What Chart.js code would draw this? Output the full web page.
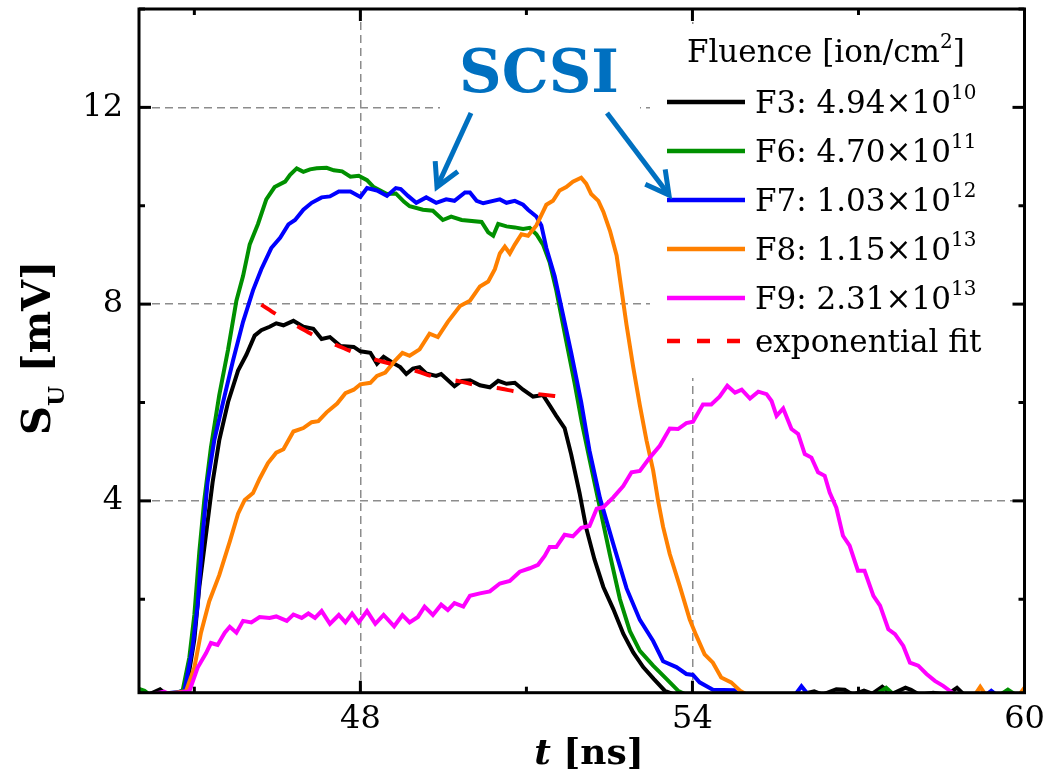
<!DOCTYPE html>
<html>
<head>
<meta charset="utf-8">
<script src="https://cdn.jsdelivr.net/npm/chart.js@4"></script>
<style>
  body { margin: 0; background: #fff; }
  #wrap { width: 1059px; height: 775px; }
</style>
</head>
<body>
<div id="wrap"><canvas id="signalCanvas" width="1059" height="775"></canvas></div>
<script>
// transients, pairs of [t (ns), S_U (mV)]
const f3 = [[44.0,0.10],[44.15,0.05],[44.38,0.17],[44.5,0.06],[44.7,0.05],[44.85,0.13],[45.0,1.18],[45.09,2.25],[45.21,3.31],[45.33,4.38],[45.45,5.23],[45.61,6.01],[45.79,6.65],[45.94,6.97],[46.09,7.36],[46.21,7.47],[46.36,7.54],[46.48,7.61],[46.61,7.57],[46.79,7.66],[46.97,7.54],[47.15,7.50],[47.30,7.29],[47.45,7.33],[47.64,7.15],[47.88,7.13],[48.0,7.04],[48.18,7.01],[48.30,6.79],[48.42,6.93],[48.61,6.79],[48.72,6.72],[48.83,6.58],[48.95,6.69],[49.07,6.72],[49.19,6.59],[49.37,6.54],[49.46,6.58],[49.70,6.33],[49.83,6.44],[49.98,6.45],[50.16,6.35],[50.34,6.31],[50.49,6.44],[50.64,6.38],[50.79,6.40],[50.94,6.26],[51.12,6.12],[51.30,6.15],[51.42,5.94],[51.54,5.73],[51.69,5.48],[51.81,4.94],[51.96,4.16],[52.08,3.45],[52.23,2.81],[52.39,2.25],[52.57,1.80],[52.75,1.30],[52.93,0.92],[53.11,0.62],[53.30,0.38],[53.50,0.14],[53.70,0.05],[55.9,0.05],[56.2,0.13],[56.35,0.06],[56.6,0.17],[56.75,0.16],[56.9,0.06],[57.1,0.14],[57.25,0.08],[57.43,0.22],[57.6,0.07],[57.85,0.20],[57.95,0.16],[58.1,0.06],[58.35,0.10],[58.6,0.06],[58.78,0.20],[58.9,0.07],[59.2,0.05],[60.0,0.05]];
const f6 = [[44.0,0.18],[44.1,0.14],[44.2,0.05],[44.6,0.05],[44.79,0.15],[44.91,0.82],[45.0,1.68],[45.09,2.96],[45.18,4.02],[45.30,5.09],[45.45,6.15],[45.61,7.08],[45.76,8.07],[45.88,8.57],[46.0,9.21],[46.15,9.63],[46.30,10.13],[46.45,10.38],[46.64,10.49],[46.73,10.63],[46.85,10.76],[46.97,10.69],[47.09,10.74],[47.21,10.76],[47.39,10.77],[47.52,10.72],[47.67,10.70],[47.82,10.59],[47.97,10.61],[48.12,10.52],[48.24,10.38],[48.48,10.24],[48.64,10.25],[48.79,10.08],[48.89,9.99],[49.13,9.92],[49.31,9.90],[49.49,9.71],[49.64,9.78],[49.83,9.71],[50.19,9.67],[50.31,9.46],[50.40,9.39],[50.49,9.63],[50.64,9.58],[50.79,9.56],[50.94,9.53],[51.06,9.55],[51.18,9.42],[51.30,9.21],[51.42,8.85],[51.54,8.28],[51.72,7.25],[51.87,6.40],[52.0,5.60],[52.14,4.85],[52.33,3.85],[52.51,2.90],[52.69,2.0],[52.87,1.35],[53.05,0.95],[53.29,0.65],[53.53,0.38],[53.74,0.14],[53.9,0.05],[57.3,0.05],[57.5,0.20],[57.65,0.05],[59.55,0.05],[59.7,0.16],[59.85,0.05],[60.0,0.05]];
const f7 = [[44.0,0.02],[44.82,0.13],[44.97,1.04],[45.06,1.89],[45.15,3.31],[45.24,4.38],[45.36,5.23],[45.52,6.01],[45.70,6.86],[45.88,7.64],[46.06,8.28],[46.21,8.71],[46.39,9.14],[46.55,9.35],[46.70,9.62],[46.82,9.71],[46.97,9.92],[47.12,10.06],[47.30,10.17],[47.45,10.19],[47.61,10.29],[47.82,10.29],[48.0,10.18],[48.12,10.36],[48.30,10.31],[48.48,10.20],[48.64,10.36],[48.73,10.34],[48.86,10.20],[49.01,10.06],[49.19,10.17],[49.37,10.06],[49.55,10.13],[49.70,10.10],[49.89,10.27],[49.98,10.27],[50.10,10.10],[50.22,10.05],[50.52,10.13],[50.64,10.06],[50.79,10.10],[50.94,10.02],[51.03,9.92],[51.18,9.78],[51.27,9.60],[51.36,9.14],[51.51,8.57],[51.66,7.79],[51.81,7.01],[51.99,6.01],[52.14,5.02],[52.33,4.05],[52.57,3.12],[52.81,2.22],[53.05,1.58],[53.29,1.15],[53.47,0.74],[53.71,0.62],[53.89,0.48],[54.01,0.46],[54.13,0.31],[54.37,0.16],[54.75,0.15],[54.85,0.05],[55.85,0.05],[55.97,0.23],[56.1,0.05],[59.3,0.05],[59.4,0.14],[59.5,0.05],[60.0,0.05]];
const f8 = [[44.0,0.0],[44.85,0.13],[45.0,0.61],[45.12,1.32],[45.27,1.96],[45.45,2.49],[45.64,3.17],[45.79,3.74],[45.91,4.02],[46.06,4.16],[46.18,4.45],[46.33,4.77],[46.48,4.98],[46.61,5.05],[46.79,5.41],[46.97,5.48],[47.12,5.60],[47.24,5.62],[47.39,5.80],[47.58,5.98],[47.73,6.19],[47.88,6.26],[48.0,6.37],[48.18,6.40],[48.30,6.54],[48.45,6.61],[48.61,6.83],[48.76,7.01],[48.89,6.95],[49.07,7.08],[49.25,7.40],[49.40,7.33],[49.58,7.64],[49.80,7.96],[49.98,8.07],[50.16,8.36],[50.31,8.46],[50.43,8.71],[50.52,9.03],[50.61,9.17],[50.70,9.03],[50.79,9.21],[50.91,9.42],[51.03,9.39],[51.18,9.60],[51.27,9.81],[51.36,10.02],[51.48,10.10],[51.60,10.31],[51.72,10.38],[51.84,10.49],[51.99,10.57],[52.08,10.45],[52.17,10.24],[52.30,10.10],[52.39,9.88],[52.51,9.49],[52.63,8.99],[52.72,8.28],[52.81,7.57],[52.93,6.72],[53.05,5.94],[53.17,5.23],[53.29,4.62],[53.38,4.0],[53.47,3.47],[53.59,2.92],[53.77,2.27],[53.95,1.59],[54.07,1.26],[54.22,0.88],[54.37,0.71],[54.52,0.41],[54.70,0.31],[54.86,0.14],[55.0,0.05],[59.1,0.05],[59.2,0.22],[59.3,0.05],[59.9,0.05],[59.98,0.17],[60.0,0.12]];
const f9 = [[44.0,0.0],[44.45,0.12],[44.55,0.07],[44.91,0.13],[45.06,0.61],[45.21,0.90],[45.30,1.11],[45.42,1.07],[45.55,1.32],[45.64,1.44],[45.76,1.32],[45.88,1.56],[46.03,1.53],[46.18,1.64],[46.36,1.62],[46.48,1.65],[46.67,1.56],[46.79,1.69],[46.94,1.62],[47.06,1.71],[47.18,1.62],[47.30,1.76],[47.45,1.50],[47.61,1.68],[47.73,1.53],[47.85,1.71],[47.97,1.53],[48.12,1.76],[48.27,1.50],[48.42,1.68],[48.61,1.45],[48.76,1.68],[48.89,1.53],[49.04,1.64],[49.16,1.85],[49.31,1.68],[49.46,1.89],[49.58,1.78],[49.70,1.92],[49.86,1.85],[49.98,2.07],[50.16,2.12],[50.34,2.16],[50.52,2.32],[50.70,2.37],[50.88,2.56],[51.06,2.63],[51.21,2.70],[51.33,2.88],[51.42,3.06],[51.54,3.06],[51.69,3.31],[51.84,3.28],[51.99,3.45],[52.14,3.49],[52.27,3.84],[52.39,3.87],[52.57,4.07],[52.75,4.30],[52.90,4.58],[53.05,4.61],[53.23,4.88],[53.41,5.12],[53.59,5.47],[53.74,5.46],[53.89,5.58],[54.01,5.61],[54.19,5.96],[54.34,5.96],[54.49,6.12],[54.63,6.34],[54.77,6.20],[54.89,6.26],[55.04,6.08],[55.19,6.22],[55.34,6.17],[55.43,6.03],[55.52,5.73],[55.64,5.88],[55.79,5.46],[55.91,5.36],[56.03,4.95],[56.15,4.88],[56.27,4.58],[56.39,4.51],[56.48,4.17],[56.60,3.86],[56.72,3.29],[56.84,3.09],[56.99,2.58],[57.11,2.58],[57.27,2.07],[57.39,1.87],[57.54,1.39],[57.66,1.29],[57.81,1.05],[57.93,0.71],[58.08,0.65],[58.23,0.48],[58.38,0.34],[58.53,0.24],[58.65,0.14],[58.8,0.02],[60.0,0.0]];
// exponential fit of the F3 plateau
const expFit = [[46.21,7.99],[46.50,7.78],[46.88,7.54],[47.15,7.37],[47.58,7.16],[47.88,7.02],[48.30,6.86],[48.61,6.77],[49.04,6.63],[49.31,6.53],[49.80,6.43],[50.10,6.35],[50.55,6.28],[50.82,6.22],[51.30,6.16],[51.60,6.12]];

const seriesNames = ['F3', 'F6', 'F7', 'F8', 'F9'];
const fluenceMantissa = ['4.94', '4.70', '1.03', '1.15', '2.31'];
const fluenceExponent = ['10', '11', '12', '13', '13'];
const xTicks = [45, 48, 51, 54, 57, 60];
const yTicks = [2, 4, 6, 8, 10, 12, 14];
const xLabelled = [48, 54, 60];
const yLabelled = [4, 8, 12];

const lineColors = ['#000000', '#009000', '#0000ff', '#ff8000', '#ff00ff'];
const fitColor = '#ff0000';
const noteColor = '#0070c0';
const serif = 'DejaVu Serif';

const curves = [f3, f6, f7, f8, f9];
const toPoints = arr => arr.map(p => ({x: p[0], y: p[1]}));

const datasets = curves.map((c, i) => ({
  label: seriesNames[i],
  data: toPoints(c),
  borderColor: lineColors[i],
  borderWidth: 4,
  pointRadius: 0,
  tension: 0,
  order: 5 - i   // later fluences on top
}));
datasets.push({
  label: 'exponential fit',
  data: toPoints(expFit),
  borderColor: fitColor,
  borderWidth: 4,
  borderDash: [17, 25],
  pointRadius: 0,
  cubicInterpolationMode: 'monotone',
  order: 0
});

function line(ctx, x1, y1, x2, y2) {
  ctx.beginPath();
  ctx.moveTo(x1, y1);
  ctx.lineTo(x2, y2);
  ctx.stroke();
}

// text with a superscript tail, returns end x
function textSup(ctx, base, sup, x, y, size) {
  ctx.font = size + 'px "' + serif + '"';
  ctx.fillText(base, x, y);
  let w = ctx.measureText(base).width;
  ctx.font = Math.round(size * 0.64) + 'px "' + serif + '"';
  ctx.fillText(sup, x + w, y - size * 0.46);
  return x + w + ctx.measureText(sup).width;
}

function arrow(ctx, x1, y1, x2, y2) {
  const a = Math.atan2(y1 - y2, x1 - x2);
  const len = 26, spread = 0.5;
  line(ctx, x1, y1, x2, y2);
  ctx.beginPath();
  ctx.moveTo(x2 + len * Math.cos(a - spread), y2 + len * Math.sin(a - spread));
  ctx.lineTo(x2, y2);
  ctx.lineTo(x2 + len * Math.cos(a + spread), y2 + len * Math.sin(a + spread));
  ctx.stroke();
}

const decorations = {
  id: 'decorations',
  beforeDatasetsDraw(chart) {
    const ctx = chart.ctx;
    ctx.save();
    ctx.fillStyle = '#ffffff';
    ctx.fillRect(440, 24, 200, 94);   // behind the SCSI note
    ctx.fillRect(650, 24, 372, 354);  // behind the legend
    ctx.restore();
  },
  afterDatasetsDraw(chart) {
    const ctx = chart.ctx;
    const {left, right, top, bottom} = chart.chartArea;
    const xs = chart.scales.x, ys = chart.scales.y;
    ctx.save();

    // frame and inward ticks on all sides
    ctx.strokeStyle = '#000';
    ctx.lineWidth = 3;
    ctx.strokeRect(left, top, right - left, bottom - top);
    xTicks.forEach(v => {
      const px = xs.getPixelForValue(v);
      const len = xLabelled.includes(v) ? 12 : 6;
      line(ctx, px, bottom, px, bottom - len);
      line(ctx, px, top, px, top + len);
    });
    yTicks.forEach(v => {
      const py = ys.getPixelForValue(v);
      const len = yLabelled.includes(v) ? 12 : 6;
      line(ctx, left, py, left + len, py);
      line(ctx, right, py, right - len, py);
    });

    // legend
    ctx.fillStyle = '#000';
    ctx.textBaseline = 'alphabetic';
    ctx.textAlign = 'left';
    ctx.font = '31px "' + serif + '"';
    const head = 'Fluence [ion/cm';
    const headW = ctx.measureText(head + ']').width + 13;
    let hx = 826 - headW / 2;
    hx = textSup(ctx, head, '2', hx, 62, 31);
    ctx.font = '31px "' + serif + '"';
    ctx.fillText(']', hx, 62);

    const rowY = [113, 162, 211, 260, 309];
    seriesNames.forEach((name, i) => {
      ctx.strokeStyle = lineColors[i];
      ctx.lineWidth = 4.5;
      line(ctx, 667, rowY[i] - 11, 745, rowY[i] - 11);
      ctx.fillStyle = '#000';
      textSup(ctx, name + ': ' + fluenceMantissa[i] + '\u00d710', fluenceExponent[i], 755, rowY[i], 31);
    });
    ctx.strokeStyle = fitColor;
    ctx.lineWidth = 4.5;
    ctx.setLineDash([13, 17]);
    line(ctx, 667, 341, 745, 341);
    ctx.setLineDash([]);
    ctx.font = '31px "' + serif + '"';
    ctx.fillText('exponential fit', 755, 352);

    // SCSI note with arrows
    ctx.fillStyle = noteColor;
    ctx.strokeStyle = noteColor;
    ctx.font = 'bold 59px "' + serif + '"';
    ctx.textAlign = 'center';
    ctx.fillText('SCSI', 539, 92);
    ctx.lineWidth = 5;
    ctx.lineJoin = 'miter';
    arrow(ctx, 471, 113, 437, 187);
    arrow(ctx, 607, 113, 669, 195);

    // axis titles
    ctx.fillStyle = '#000';
    ctx.textAlign = 'left';
    ctx.font = 'bold italic 36px "' + serif + '"';
    const tW = ctx.measureText('t').width;
    ctx.font = 'bold 36px "' + serif + '"';
    const unitW = ctx.measureText(' [ns]').width;
    let tx = 589 - (tW + unitW) / 2;
    ctx.font = 'bold italic 36px "' + serif + '"';
    ctx.fillText('t', tx, 764);
    ctx.font = 'bold 36px "' + serif + '"';
    ctx.fillText(' [ns]', tx + tW, 764);

    ctx.translate(50, 435);
    ctx.rotate(-Math.PI / 2);
    ctx.font = 'bold 40px "' + serif + '"';
    ctx.fillText('S', 0, 0);
    let sx = ctx.measureText('S').width;
    ctx.font = 'bold 23px "' + serif + '"';
    ctx.fillText('U', sx, 14);
    sx += ctx.measureText('U').width;
    ctx.font = 'bold 40px "' + serif + '"';
    ctx.fillText(' [mV]', sx, 0);

    ctx.restore();
  }
};

Chart.defaults.font.family = serif;
Chart.defaults.color = '#000';

new Chart(document.getElementById('signalCanvas'), {
  type: 'line',
  data: { datasets },
  options: {
    responsive: false,
    animation: false,
    layout: { padding: { top: 9, right: 34.5, left: 0, bottom: 0 } },
    plugins: { legend: { display: false }, tooltip: { enabled: false } },
    scales: {
      x: {
        type: 'linear',
        min: 44,
        max: 60,
        afterBuildTicks: s => { s.ticks = xTicks.map(v => ({value: v})); },
        afterFit: s => { s.height = 82.3; s.paddingLeft = 0; s.paddingRight = 0; },
        ticks: {
          font: { size: 32 },
          padding: 8,
          maxRotation: 0,
          autoSkip: false,
          callback: v => xLabelled.includes(v) ? String(v) : ''
        },
        grid: {
          drawTicks: false,
          lineWidth: 1.5,
          color: c => (c.tick && (c.tick.value === 48 || c.tick.value === 54)) ? '#8c8c8c' : 'rgba(0,0,0,0)'
        },
        border: { display: false, dash: [8, 5] }
      },
      y: {
        min: 0.1,
        max: 14,
        afterBuildTicks: s => { s.ticks = yTicks.map(v => ({value: v})); },
        afterFit: s => { s.width = 139; s.paddingTop = 0; s.paddingBottom = 0; },
        ticks: {
          font: { size: 32 },
          padding: 16,
          autoSkip: false,
          callback: v => yLabelled.includes(v) ? String(v) : ''
        },
        grid: {
          drawTicks: false,
          lineWidth: 1.5,
          color: c => (c.tick && yLabelled.includes(c.tick.value)) ? '#8c8c8c' : 'rgba(0,0,0,0)'
        },
        border: { display: false, dash: [8, 5] }
      }
    }
  },
  plugins: [decorations]
});
</script>
</body>
</html>
